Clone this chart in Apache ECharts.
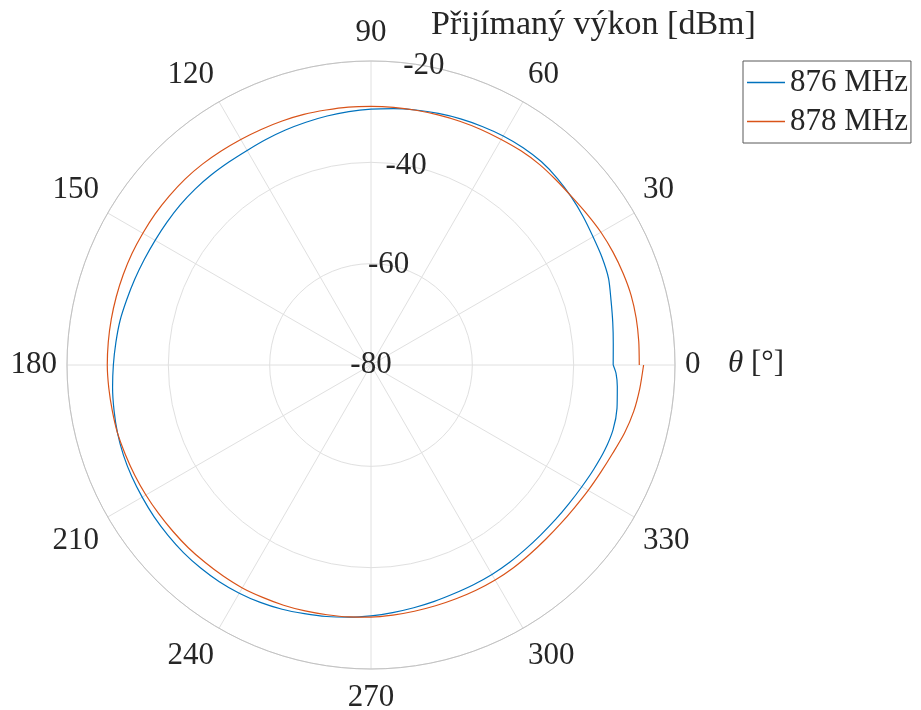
<!DOCTYPE html>
<html>
<head>
<meta charset="utf-8">
<script src="https://cdn.jsdelivr.net/npm/echarts@6/dist/echarts.min.js"></script>
<style>
  html, body { margin: 0; padding: 0; background: #ffffff; }
  #chart { width: 921px; height: 710px; }
</style>
</head>
<body>
<div id="chart"></div>
<script>
// Received power pattern [dBm] versus rotation angle [deg]
const seriesNames = ['876 MHz', '878 MHz'];

const theta876 = [0, 5, 10, 15, 20, 25, 30, 35, 40, 45, 50, 55, 60, 65, 70, 75, 80, 85, 90,
  95, 100, 105, 110, 115, 120, 125, 130, 135, 140, 145, 150, 155, 160, 165, 170, 175, 180,
  185, 190, 195, 200, 205, 210, 215, 220, 225, 230, 235, 240, 245, 250, 255, 260, 265, 270,
  275, 280, 285, 290, 295, 300, 305, 310, 315, 320, 325, 330, 335, 340, 345, 350, 355, 358, 360];
const power876 = [-32.2, -32.0, -31.55, -30.95, -30.1, -29.7, -29.4, -28.9, -28.4, -27.95, -27.65, -27.65, -27.8, -28.05, -28.3, -28.6, -28.9, -29.2, -29.5,
  -29.8, -30.1, -30.4, -30.65, -30.9, -31.1, -31.1, -31.0, -30.9, -30.85, -30.85, -30.8, -30.65, -30.4, -30.1, -29.7, -29.45, -29.15,
  -28.8, -28.5, -28.2, -28.0, -27.9, -27.85, -27.75, -27.7, -27.65, -27.7, -27.8, -28.0, -28.3, -28.7, -29.2, -29.6, -30.05, -30.5,
  -30.95, -31.35, -31.7, -32.0, -32.15, -32.25, -32.4, -32.55, -32.6, -32.5, -32.3, -31.95, -31.45, -30.9, -30.55, -30.7, -31.2, -31.6, -32.2];

const theta878 = [0, 5, 10, 15, 20, 25, 30, 35, 40, 45, 50, 55, 60, 65, 70, 75, 80, 85, 90,
  95, 100, 105, 110, 115, 120, 125, 130, 135, 140, 145, 150, 155, 160, 165, 170, 175, 180,
  185, 190, 195, 200, 205, 210, 215, 220, 225, 230, 235, 240, 245, 250, 255, 260, 265, 270,
  275, 280, 285, 290, 295, 300, 305, 310, 315, 320, 325, 330, 335, 340, 345, 350, 355, 360];
const power878 = [-27.05, -26.95, -26.85, -26.85, -27.05, -27.3, -27.6, -28.0, -28.3, -28.35, -28.3, -28.4, -28.6, -28.7, -28.8, -28.9, -28.95, -28.95, -28.95,
  -28.9, -28.9, -28.8, -28.75, -28.7, -28.6, -28.45, -28.25, -28.1, -28.05, -28.0, -28.0, -27.95, -27.95, -27.95, -27.95, -27.95, -27.95,
  -28.05, -28.15, -28.2, -28.4, -28.55, -28.7, -28.85, -28.95, -29.0, -29.1, -29.15, -29.2, -29.4, -29.55, -29.75, -29.95, -30.1, -30.25,
  -30.45, -30.65, -30.8, -30.9, -30.95, -31.0, -31.1, -31.25, -31.3, -31.2, -30.95, -30.5, -29.95, -29.2, -28.2, -27.35, -26.75, -26.2];

// Radial tick values and the angle at which their labels sit
const radiusTicks = [-80, -60, -40, -20];
const radiusLabelAngle = 80;

const FONT = '"Liberation Serif", "DejaVu Serif", serif';
const TEXT = '#262626';

function pairs(r, t) {
  return r.map((v, i) => [v, t[i]]);
}

// Upper labels sit a little higher, lower labels a little lower
function angleLabel(v) {
  if (v > 0 && v < 180) return '{hi|' + v + '}';
  if (v > 180 && v < 360) return '{lo|' + v + '}';
  return '{n|' + v + '}';
}

const labelRich = {
  hi: { fontFamily: FONT, fontSize: 31, color: TEXT, padding: [0, 0, 3, 0] },
  lo: { fontFamily: FONT, fontSize: 31, color: TEXT, padding: [3, 0, 0, 0] },
  n: { fontFamily: FONT, fontSize: 31, color: TEXT }
};

const chart = echarts.init(document.getElementById('chart'), null, { renderer: 'canvas' });

chart.setOption({
  animation: false,
  backgroundColor: '#ffffff',
  title: [
    {
      text: 'Přijímaný výkon [dBm]',
      left: 431, top: 8, padding: 0,
      textStyle: { fontFamily: FONT, fontSize: 34, fontWeight: 'normal', color: TEXT }
    },
    {
      text: '{i|θ} [°]',
      left: 728, top: 348, padding: 0,
      textStyle: {
        fontFamily: FONT, fontSize: 31, fontWeight: 'normal', color: TEXT,
        rich: { i: { fontFamily: FONT, fontSize: 31, fontStyle: 'italic', color: TEXT } }
      }
    }
  ],
  legend: {
    orient: 'vertical',
    left: 743, top: 61,
    data: seriesNames,
    icon: 'rect',
    itemWidth: 38, itemHeight: 1.3, itemGap: 8,
    padding: [6, 3, 6, 4],
    borderColor: '#595959', borderWidth: 1,
    textStyle: { fontFamily: FONT, fontSize: 31, color: TEXT }
  },
  polar: { center: [371, 365], radius: 304 },
  angleAxis: {
    type: 'value',
    min: 0, max: 360, interval: 30,
    startAngle: 0, clockwise: false,
    axisLine: { show: true, lineStyle: { color: '#c2c2c2', width: 1 } },
    axisTick: { show: false },
    axisLabel: { margin: 10, fontFamily: FONT, fontSize: 31, color: TEXT, formatter: angleLabel, rich: labelRich },
    splitLine: { show: true, lineStyle: { color: '#e0e0e0', width: 1 } }
  },
  radiusAxis: {
    type: 'value',
    min: -80, max: -20, interval: 20,
    axisLine: { show: false },
    axisTick: { show: false },
    axisLabel: { show: false },
    splitLine: { show: true, lineStyle: { color: '#e0e0e0', width: 1 } }
  },
  series: [
    {
      name: seriesNames[0],
      type: 'line',
      coordinateSystem: 'polar',
      data: pairs(power876, theta876),
      symbol: 'none',
      smooth: 0.25,
      lineStyle: { color: '#0072BD', width: 1.2 },
      itemStyle: { color: '#0072BD' },
      z: 3
    },
    {
      name: seriesNames[1],
      type: 'line',
      coordinateSystem: 'polar',
      data: pairs(power878, theta878),
      symbol: 'none',
      smooth: 0.25,
      lineStyle: { color: '#D95319', width: 1.2 },
      itemStyle: { color: '#D95319' },
      z: 3
    },
    {
      name: 'rticks',
      type: 'scatter',
      coordinateSystem: 'polar',
      data: radiusTicks.map(v => [v, radiusLabelAngle]),
      symbolSize: 0,
      itemStyle: { color: TEXT, opacity: 1 },
      silent: true,
      label: {
        show: true, position: 'inside',
        formatter: p => String(p.value[0]),
        fontFamily: FONT, fontSize: 31, color: TEXT, opacity: 1
      },
      z: 2
    }
  ]
});
</script>
</body>
</html>
